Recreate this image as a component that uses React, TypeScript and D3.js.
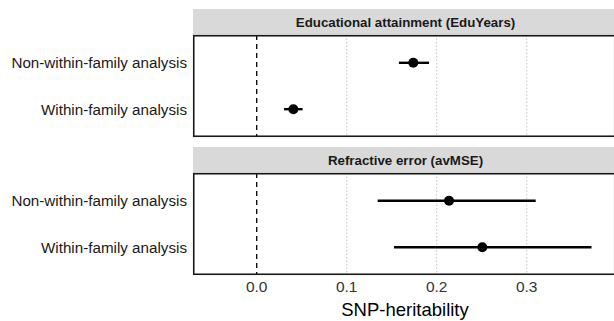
import { useEffect, useRef } from 'react'
import * as d3 from 'd3'

const panels = ['Educational attainment (EduYears)', 'Refractive error (avMSE)']
const analyses = ['Non-within-family analysis', 'Within-family analysis']
// [panel][analysis]
const estimates = [[0.174, 0.0407], [0.2137, 0.2507]]
const lowerCI = [[0.158, 0.0304], [0.1344, 0.1526]]
const upperCI = [[0.1915, 0.051], [0.31, 0.372]]
const tickValues = [0.0, 0.1, 0.2, 0.3]

export default function App() {
  const svgRef = useRef<SVGSVGElement>(null)
  const width = 614
  const height = 321

  useEffect(() => {
    if (!svgRef.current) return
    const svg = d3.select(svgRef.current)
    svg.selectAll('*').remove()

    const left = 193
    const right = 614
    const x = d3.scaleLinear().domain([0, 0.1]).range([256.7, 346.7])

    const stripH = 26
    const bodyH = 102
    const panelTops = [9, 147]
    const font = 'Liberation Sans, Arial, sans-serif'

    panels.forEach((name, p) => {
      const top = panelTops[p]
      const bodyTop = top + stripH
      const g = svg.append('g')

      g.append('rect')
        .attr('x', left).attr('y', top)
        .attr('width', right - left).attr('height', stripH)
        .attr('fill', '#d9d9d9')
      g.append('text')
        .attr('x', (left + right) / 2 + 2).attr('y', top + stripH / 2)
        .attr('dy', '0.36em')
        .attr('text-anchor', 'middle')
        .style('font-family', font)
        .style('font-size', '13.3px')
        .style('font-weight', 'bold')
        .style('fill', '#1a1a1a')
        .text(name)

      const y = d3.scaleBand()
        .domain(analyses)
        .range([bodyTop, bodyTop + bodyH])
        .paddingOuter(0.1)

      // grid lines
      g.selectAll('.grid')
        .data(tickValues.filter(d => d > 0))
        .enter().append('line')
        .attr('x1', d => x(d)).attr('x2', d => x(d))
        .attr('y1', bodyTop).attr('y2', bodyTop + bodyH)
        .attr('stroke', '#b8b8b8')
        .attr('stroke-width', 0.8)
        .attr('stroke-dasharray', '1.5,2')

      // zero line
      g.append('line')
        .attr('x1', x(0)).attr('x2', x(0))
        .attr('y1', bodyTop).attr('y2', bodyTop + bodyH)
        .attr('stroke', '#000')
        .attr('stroke-width', 1.3)
        .attr('stroke-dasharray', '5,4')

      analyses.forEach((a, i) => {
        const cy = (y(a) || 0) + y.bandwidth() / 2
        g.append('line')
          .attr('x1', x(lowerCI[p][i])).attr('x2', x(upperCI[p][i]))
          .attr('y1', cy).attr('y2', cy)
          .attr('stroke', '#000')
          .attr('stroke-width', 2.4)
        g.append('circle')
          .attr('cx', x(estimates[p][i])).attr('cy', cy)
          .attr('r', 5)
          .attr('fill', '#000')
        g.append('text')
          .attr('x', 187).attr('y', cy)
          .attr('dy', '0.36em')
          .attr('text-anchor', 'end')
          .style('font-family', font)
          .style('font-size', '15.2px')
          .style('fill', '#1a1a1a')
          .text(a)
      })

      g.append('rect')
        .attr('x', left + 0.75).attr('y', bodyTop + 0.75)
        .attr('width', right - left).attr('height', bodyH - 1.5)
        .attr('fill', 'none')
        .attr('stroke', '#1a1a1a')
        .attr('stroke-width', 1.6)
    })

    // x axis labels
    svg.append('g')
      .selectAll('text')
      .data(tickValues)
      .enter().append('text')
      .attr('x', d => x(d))
      .attr('y', 292)
      .attr('text-anchor', 'middle')
      .style('font-family', font)
      .style('font-size', '15.5px')
      .style('fill', '#333')
      .text(d => d3.format('.1f')(d))

    svg.append('text')
      .attr('x', 405)
      .attr('y', 316)
      .attr('text-anchor', 'middle')
      .style('font-family', font)
      .style('font-size', '18.5px')
      .style('fill', '#000')
      .text('SNP-heritability')
  }, [])

  return (
    <div style={{ position: 'absolute', left: 0, top: 0 }}>
      <svg ref={svgRef} width={width} height={height} style={{ display: 'block', background: '#fff' }} />
    </div>
  )
}
